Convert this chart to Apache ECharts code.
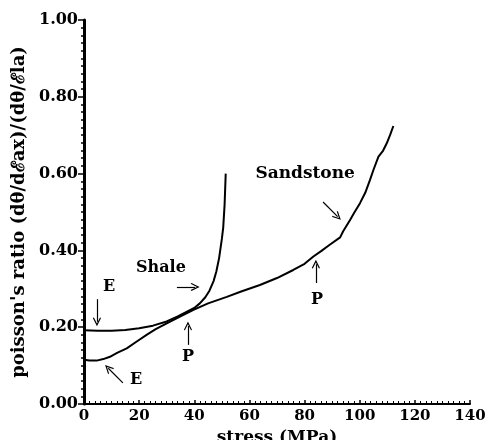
<!DOCTYPE html>
<html>
<head>
<meta charset="utf-8">
<script src="https://cdn.jsdelivr.net/npm/echarts@6/dist/echarts.min.js"></script>
<style>
  html, body { margin: 0; padding: 0; background: #fff; }
  #main { width: 488px; height: 440px; }
</style>
</head>
<body>
<div id="main"></div>
<script>
// shale curve (stress MPa, poisson's ratio)
var shaleStress = [0, 5, 10, 15, 20, 25, 30, 34, 37, 40, 42, 44, 45.5, 47, 48, 49, 50, 50.5, 51, 51.4];
var shaleRatio = [0.192, 0.191, 0.191, 0.193, 0.197, 0.204, 0.215, 0.228, 0.239, 0.25, 0.262, 0.278, 0.295, 0.32, 0.345, 0.38, 0.43, 0.46, 0.52, 0.60];

// sandstone curve
var sandStress = [0, 2, 4.6, 7, 9.4, 12, 15.5, 19, 22.7, 26, 30, 35, 39.7, 45, 51.8, 57, 63.8, 70, 75.9, 80, 83.2, 86, 89, 92.9, 94, 96.5, 98, 100.1, 102, 103.7, 105, 106.8, 108.5, 109.8, 111, 112.2];
var sandRatio = [0.115, 0.113, 0.113, 0.117, 0.123, 0.133, 0.145, 0.162, 0.18, 0.195, 0.21, 0.228, 0.245, 0.262, 0.279, 0.293, 0.31, 0.328, 0.349, 0.365, 0.384, 0.398, 0.414, 0.434, 0.45, 0.479, 0.498, 0.523, 0.55, 0.583, 0.61, 0.644, 0.66, 0.679, 0.70, 0.724];

// annotations, in data units
var noteText = ['E', 'E', 'P', 'Shale', 'P', 'Sandstone'];
var noteAt = [[9.1, 0.305], [18.9, 0.0625], [37.7, 0.122], [27.9, 0.354], [84.5, 0.271], [80.2, 0.599]];
var arrowFrom = [[4.7, 0.273], [14.1, 0.055], [37.7, 0.154], [33.7, 0.305], [84.1, 0.315], [86.7, 0.526]];
var arrowTo = [[4.7, 0.214], [8.8, 0.093], [37.7, 0.203], [40.3, 0.305], [84.1, 0.364], [92.0, 0.488]];

var xTicks = [0, 20, 40, 60, 80, 100, 120, 140];
var yTicks = [0, 0.2, 0.4, 0.6, 0.8, 1.0];

var chart = echarts.init(document.getElementById('main'));

var font = 'DejaVu Serif';
var arrowHead = 'path://M5,0 L10,9 L9,10 L5,3 L1,10 L0,9 Z';

function pairs(xs, ys) {
    return xs.map(function (x, i) { return [x, ys[i]]; });
}

var option = {
    animation: false,
    backgroundColor: '#fff',
    grid: { left: 84, right: 18, top: 20, bottom: 36, containLabel: false, outerBoundsMode: 'none' },
    xAxis: {
        type: 'value',
        min: xTicks[0],
        max: xTicks[xTicks.length - 1],
        interval: 20,
        name: 'stress (MPa)',
        nameLocation: 'middle',
        nameGap: 21,
        nameTextStyle: { fontFamily: font, fontWeight: 'bold', fontSize: 17, color: '#000' },
        axisLine: { lineStyle: { color: '#000', width: 2 } },
        axisTick: { inside: true, length: 4, lineStyle: { color: '#000', width: 1.5 } },
        minorTick: { show: true, splitNumber: 10, length: 3, lineStyle: { color: '#000', width: 1 } },
        splitLine: { show: false },
        axisLabel: { margin: 5, fontFamily: font, fontWeight: 'bold', fontSize: 15, color: '#000' }
    },
    yAxis: {
        type: 'value',
        min: yTicks[0],
        max: yTicks[yTicks.length - 1],
        interval: 0.2,
        name: "poisson's ratio (dθ/dℰax)/(dθ/ℰla)",
        nameLocation: 'middle',
        nameGap: 56,
        nameTextStyle: { fontFamily: font, fontWeight: 'bold', fontSize: 18, color: '#000' },
        axisLine: { lineStyle: { color: '#000', width: 3 } },
        axisTick: { length: 6, lineStyle: { color: '#000', width: 1.5 } },
        minorTick: { show: true, splitNumber: 10, length: 3, lineStyle: { color: '#000', width: 1.5 } },
        splitLine: { show: false },
        axisLabel: {
            margin: 6, fontFamily: font, fontWeight: 'bold', fontSize: 16, color: '#000',
            formatter: function (v) { return v.toFixed(2); }
        }
    },
    series: [
        {
            name: 'Shale',
            type: 'line',
            showSymbol: false,
            lineStyle: { color: '#000', width: 2 },
            data: pairs(shaleStress, shaleRatio)
        },
        {
            name: 'Sandstone',
            type: 'line',
            showSymbol: false,
            lineStyle: { color: '#000', width: 2 },
            data: pairs(sandStress, sandRatio),
            markPoint: {
                silent: true,
                symbol: 'circle',
                symbolSize: 0,
                label: {
                    show: true,
                    position: 'inside',
                    formatter: '{b}',
                    fontFamily: font,
                    fontWeight: 'bold',
                    fontSize: 16,
                    color: '#000'
                },
                data: noteText.map(function (t, i) {
                    var item = { name: t, coord: noteAt[i] };
                    if (t === 'Sandstone') {
                        item.label = { fontSize: 17 };
                    }
                    return item;
                })
            },
            markLine: {
                silent: true,
                symbol: ['none', arrowHead],
                symbolSize: [8, 9],
                label: { show: false },
                lineStyle: { color: '#000', width: 1.2, type: 'solid' },
                data: arrowFrom.map(function (p, i) {
                    return [{ coord: p }, { coord: arrowTo[i] }];
                })
            }
        }
    ]
};

chart.setOption(option);
</script>
</body>
</html>
